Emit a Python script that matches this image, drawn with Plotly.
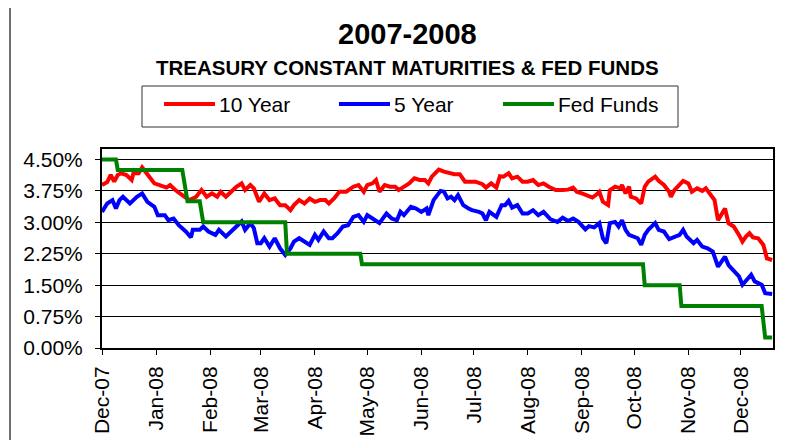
import plotly.graph_objects as go

# ---------------- data ----------------
ten_dates = [
    "2007-12-01", "2007-12-04", "2007-12-06", "2007-12-08", "2007-12-10", "2007-12-12", "2007-12-15",
    "2007-12-18", "2007-12-19", "2007-12-22", "2007-12-24", "2007-12-27", "2007-12-31",
    "2008-01-03", "2008-01-07", "2008-01-09", "2008-01-12", "2008-01-16", "2008-01-20", "2008-01-22",
    "2008-01-24", "2008-01-27", "2008-01-30", "2008-02-02", "2008-02-05", "2008-02-07", "2008-02-10",
    "2008-02-13", "2008-02-16", "2008-02-19", "2008-02-21", "2008-02-24", "2008-02-26", "2008-02-29",
    "2008-03-03", "2008-03-06", "2008-03-09", "2008-03-12", "2008-03-15", "2008-03-18", "2008-03-20",
    "2008-03-23", "2008-03-26", "2008-03-29", "2008-04-01", "2008-04-04", "2008-04-07", "2008-04-09",
    "2008-04-12", "2008-04-15", "2008-04-19", "2008-04-23", "2008-04-26", "2008-04-29", "2008-05-01",
    "2008-05-04", "2008-05-06", "2008-05-08", "2008-05-11", "2008-05-14", "2008-05-17", "2008-05-19",
    "2008-05-22", "2008-05-25", "2008-05-28", "2008-05-31", "2008-06-03", "2008-06-05", "2008-06-07",
    "2008-06-09", "2008-06-11", "2008-06-14", "2008-06-17", "2008-06-20", "2008-06-23", "2008-06-26",
    "2008-06-28", "2008-07-02", "2008-07-06", "2008-07-08", "2008-07-11", "2008-07-14", "2008-07-16",
    "2008-07-18", "2008-07-21", "2008-07-23", "2008-07-26", "2008-07-29", "2008-08-01", "2008-08-04",
    "2008-08-07", "2008-08-10", "2008-08-13", "2008-08-17", "2008-08-21", "2008-08-24", "2008-08-27",
    "2008-08-29", "2008-09-01", "2008-09-04", "2008-09-07", "2008-09-09", "2008-09-11", "2008-09-13",
    "2008-09-16", "2008-09-17", "2008-09-20", "2008-09-23", "2008-09-24", "2008-09-26", "2008-09-28",
    "2008-09-29", "2008-10-02", "2008-10-05", "2008-10-07", "2008-10-09", "2008-10-13", "2008-10-15",
    "2008-10-18", "2008-10-21", "2008-10-22", "2008-10-24", "2008-10-27", "2008-10-29", "2008-11-01",
    "2008-11-03", "2008-11-06", "2008-11-09", "2008-11-11", "2008-11-13", "2008-11-16", "2008-11-18",
    "2008-11-20", "2008-11-22", "2008-11-24", "2008-11-27", "2008-11-30", "2008-12-02", "2008-12-04",
    "2008-12-06", "2008-12-08", "2008-12-11", "2008-12-14", "2008-12-16", "2008-12-19",
]
ten_year = [
    3.89, 3.96, 4.13, 3.97, 4.13, 4.17, 4.13,
    4.01, 4.17, 4.17, 4.31, 4.13, 3.93,
    3.89, 3.83, 3.89, 3.77, 3.65, 3.53, 3.57,
    3.61, 3.77, 3.61, 3.69, 3.61, 3.73, 3.61,
    3.73, 3.85, 3.93, 3.77, 3.89, 3.81, 3.49,
    3.69, 3.53, 3.57, 3.41, 3.41, 3.29, 3.41,
    3.53, 3.45, 3.57, 3.49, 3.53, 3.53, 3.45,
    3.57, 3.73, 3.73, 3.85, 3.89, 3.73, 3.89,
    3.93, 4.01, 3.73, 3.89, 3.85, 3.85, 3.77,
    3.85, 3.93, 4.05, 4.01, 4.01, 3.93, 4.09,
    4.17, 4.26, 4.21, 4.18, 4.15, 4.15, 3.97,
    3.97, 3.97, 3.91, 3.83, 3.93, 3.83, 4.10,
    4.09, 4.17, 4.05, 4.09, 3.97, 3.97, 4.01,
    3.89, 3.93, 3.85, 3.77, 3.77, 3.78, 3.83,
    3.73, 3.69, 3.63, 3.59, 3.65, 3.73, 3.49,
    3.41, 3.77, 3.85, 3.81, 3.89, 3.69, 3.85,
    3.61, 3.57, 3.45, 3.85, 3.97, 4.09, 3.99,
    3.89, 3.73, 3.61, 3.77, 3.89, 3.99, 3.93,
    3.73, 3.81, 3.75, 3.81, 3.69, 3.53, 3.05,
    3.17, 3.33, 2.98, 2.90, 2.70, 2.54, 2.66,
    2.74, 2.64, 2.62, 2.46, 2.14, 2.10,
]

five_dates = [
    "2007-12-01", "2007-12-04", "2007-12-07", "2007-12-09", "2007-12-11", "2007-12-13", "2007-12-17",
    "2007-12-21", "2007-12-24", "2007-12-27", "2007-12-31", "2008-01-02", "2008-01-06", "2008-01-08",
    "2008-01-11", "2008-01-14", "2008-01-18", "2008-01-21", "2008-01-22", "2008-01-26", "2008-01-28",
    "2008-01-31", "2008-02-04", "2008-02-06", "2008-02-10", "2008-02-13", "2008-02-16", "2008-02-19",
    "2008-02-21", "2008-02-24", "2008-02-26", "2008-02-28", "2008-03-01", "2008-03-03", "2008-03-06",
    "2008-03-09", "2008-03-12", "2008-03-15", "2008-03-18", "2008-03-20", "2008-03-23", "2008-03-26",
    "2008-03-29", "2008-04-01", "2008-04-03", "2008-04-06", "2008-04-09", "2008-04-11", "2008-04-14",
    "2008-04-17", "2008-04-20", "2008-04-23", "2008-04-26", "2008-04-29", "2008-05-01", "2008-05-04",
    "2008-05-08", "2008-05-12", "2008-05-15", "2008-05-18", "2008-05-20", "2008-05-22", "2008-05-26",
    "2008-05-29", "2008-06-01", "2008-06-04", "2008-06-05", "2008-06-08", "2008-06-12", "2008-06-14",
    "2008-06-16", "2008-06-18", "2008-06-20", "2008-06-22", "2008-06-25", "2008-06-28", "2008-06-30",
    "2008-07-04", "2008-07-06", "2008-07-08", "2008-07-10", "2008-07-14", "2008-07-17", "2008-07-19",
    "2008-07-21", "2008-07-23", "2008-07-26", "2008-07-29", "2008-08-01", "2008-08-04", "2008-08-07",
    "2008-08-10", "2008-08-14", "2008-08-18", "2008-08-21", "2008-08-24", "2008-08-27", "2008-08-30",
    "2008-09-03", "2008-09-05", "2008-09-08", "2008-09-11", "2008-09-13", "2008-09-15", "2008-09-17",
    "2008-09-20", "2008-09-22", "2008-09-24", "2008-09-26", "2008-09-28", "2008-09-30", "2008-10-03",
    "2008-10-05", "2008-10-07", "2008-10-09", "2008-10-13", "2008-10-15", "2008-10-18", "2008-10-21",
    "2008-10-24", "2008-10-27", "2008-10-29", "2008-10-31", "2008-11-04", "2008-11-06", "2008-11-09",
    "2008-11-12", "2008-11-15", "2008-11-16", "2008-11-18", "2008-11-20", "2008-11-22", "2008-11-24",
    "2008-11-27", "2008-11-30", "2008-12-02", "2008-12-05", "2008-12-07", "2008-12-09", "2008-12-13",
    "2008-12-15", "2008-12-19",
]
five_year = [
    3.25, 3.45, 3.53, 3.33, 3.53, 3.61, 3.45,
    3.61, 3.69, 3.49, 3.37, 3.17, 3.17, 3.05,
    3.09, 2.93, 2.78, 2.64, 2.82, 2.82, 2.90,
    2.78, 2.70, 2.82, 2.66, 2.78, 2.90, 3.02,
    2.82, 2.98, 2.86, 2.50, 2.50, 2.62, 2.42,
    2.62, 2.38, 2.22, 2.38, 2.54, 2.62, 2.54,
    2.46, 2.70, 2.58, 2.78, 2.62, 2.62, 2.74,
    2.90, 2.93, 3.13, 3.17, 3.01, 3.17, 3.09,
    2.98, 3.21, 3.09, 3.05, 3.25, 3.17, 3.37,
    3.33, 3.25, 3.33, 3.17, 3.53, 3.75, 3.73,
    3.57, 3.61, 3.53, 3.65, 3.41, 3.33, 3.29,
    3.25, 3.21, 3.05, 3.25, 3.13, 3.41, 3.41,
    3.51, 3.35, 3.41, 3.21, 3.21, 3.29, 3.17,
    3.25, 3.07, 3.01, 3.11, 3.03, 3.09, 3.01,
    2.83, 2.91, 2.88, 2.98, 2.62, 2.50, 2.98,
    3.01, 2.90, 3.05, 2.82, 2.70, 2.66, 2.62,
    2.46, 2.70, 2.82, 2.98, 2.82, 2.78, 2.60,
    2.64, 2.70, 2.82, 2.66, 2.50, 2.58, 2.42,
    2.38, 2.30, 2.18, 1.94, 2.06, 2.18, 1.98,
    1.86, 1.71, 1.51, 1.67, 1.75, 1.59, 1.51,
    1.31, 1.29,
]

fed_dates = [
    "2007-12-01", "2007-12-09", "2007-12-10", "2008-01-16", "2008-01-19", "2008-01-26", "2008-01-28",
    "2008-03-15", "2008-03-16", "2008-04-27", "2008-04-28", "2008-10-06", "2008-10-07", "2008-10-27",
    "2008-10-28", "2008-12-13", "2008-12-15", "2008-12-19",
]
fed_funds = [
    4.50, 4.50, 4.25, 4.25, 3.50, 3.50, 3.00,
    3.00, 2.25, 2.25, 2.00, 2.00, 1.50, 1.50,
    1.00, 1.00, 0.25, 0.25,
]

series_names = ["10 Year", "5 Year", "Fed Funds"]
series_colors = ["#FF0000", "#0000FF", "#008000"]
y_ticks = [0.0, 0.75, 1.5, 2.25, 3.0, 3.75, 4.5]
y_tick_labels = ["0.00%", "0.75%", "1.50%", "2.25%", "3.00%", "3.75%", "4.50%"]

# ---------------- layout geometry (page pixels; page body has an 8px margin) ----------------
OFF = 8
W, H = 794 - OFF, 440 - OFF
PLOT_L, PLOT_R, PLOT_T, PLOT_B = 102, 773, 149, 348
ML, MR, MT, MB = PLOT_L - OFF, W - (PLOT_R - OFF), PLOT_T - OFF, H - (PLOT_B - OFF)
PW, PH = W - ML - MR, H - MT - MB


def px(xp):
    return (xp - OFF - ML) / PW


def py(yp):
    return (H - MB - (yp - OFF)) / PH


FONT = "Liberation Sans, Arial, sans-serif"

fig = go.Figure()
for name, xs, ys, col in zip(series_names,
                             [ten_dates, five_dates, fed_dates],
                             [ten_year, five_year, fed_funds],
                             series_colors):
    fig.add_trace(go.Scatter(x=xs, y=ys, mode="lines", name=name,
                             line=dict(color=col, width=4), showlegend=False))

shapes = [
    # outer chart border
    dict(type="rect", xref="paper", yref="paper", x0=px(10), x1=px(790), y0=py(470), y1=py(7),
         line=dict(color="#404040", width=1.5), layer="below"),
    # legend box
    dict(type="rect", xref="paper", yref="paper", x0=px(142), x1=px(678), y0=py(127), y1=py(86),
         line=dict(color="#333333", width=1)),
]
annotations = [
    dict(text="<b>2007-2008</b>", x=px(407), y=py(34), xref="paper", yref="paper",
         showarrow=False, font=dict(family=FONT, size=29, color="black"), xanchor="center", yanchor="middle"),
    dict(text="<b>TREASURY CONSTANT MATURITIES &amp; FED FUNDS</b>", x=px(407), y=py(67),
         xref="paper", yref="paper", showarrow=False,
         font=dict(family=FONT, size=20.5, color="black"), xanchor="center", yanchor="middle"),
]
leg_line_x = [(164, 215), (339, 390), (503, 554)]
for name, col, (a, b) in zip(series_names, series_colors, leg_line_x):
    shapes.append(dict(type="line", xref="paper", yref="paper", x0=px(a), x1=px(b), y0=py(104), y1=py(104),
                       line=dict(color=col, width=4)))
    annotations.append(dict(text=name, x=px(b + 4), y=py(104), xref="paper", yref="paper", showarrow=False,
                            font=dict(family=FONT, size=21, color="black"), xanchor="left", yanchor="middle",
                            xshift=-2))

fig.update_layout(
    width=W, height=H,
    margin=dict(l=ML, r=MR, t=MT, b=MB, pad=0, autoexpand=False),
    paper_bgcolor="white", plot_bgcolor="white",
    font=dict(family=FONT, color="black"),
    shapes=shapes, annotations=annotations,
    showlegend=False,
)
fig.update_xaxes(
    type="date", range=["2007-12-01", "2008-12-19 12:00"],
    tick0="2007-12-01", dtick="M1", tickformat="%b-%y", tickangle=-90,
    showgrid=False, showline=True, linecolor="black", linewidth=2, mirror=True,
    ticks="outside", ticklen=5, tickcolor="black", tickwidth=1, ticklabelstandoff=3,
    tickfont=dict(family=FONT, size=21, color="black"), zeroline=False, automargin=False,
)
fig.update_yaxes(
    range=[0, 4.75], tickvals=y_ticks, ticktext=y_tick_labels,
    showgrid=True, gridcolor="#000000", gridwidth=1,
    showline=True, linecolor="black", linewidth=2, mirror=True,
    ticks="outside", ticklen=5, tickcolor="black", tickwidth=1, ticklabelstandoff=8,
    tickfont=dict(family=FONT, size=21, color="black"), zeroline=False, automargin=False,
)

fig.write_html("out.html")
